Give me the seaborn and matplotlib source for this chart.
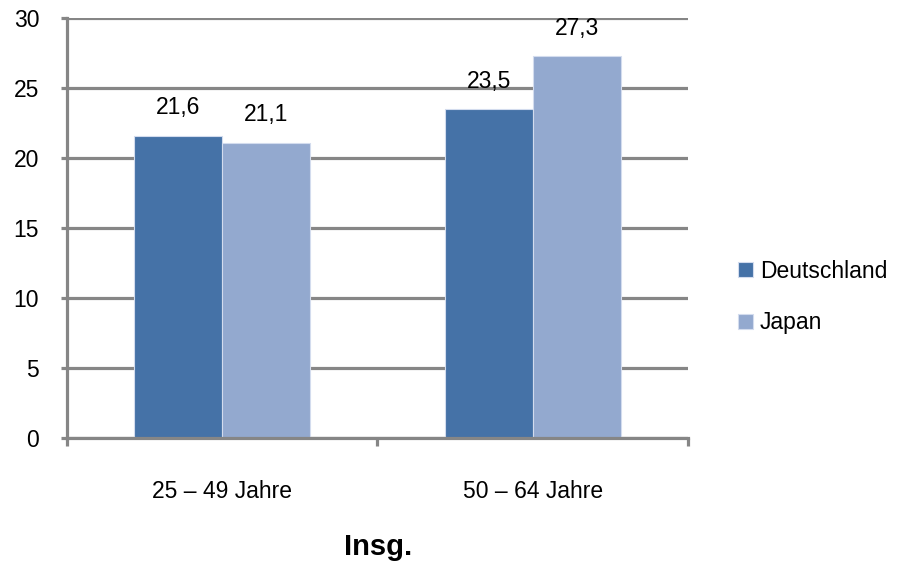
import matplotlib
matplotlib.use("Agg")
import matplotlib.pyplot as plt
import seaborn as sns
import pandas as pd

# Age groups and values per country
categories = ["25 – 49 Jahre", "50 – 64 Jahre"]
countries = ["Deutschland", "Japan"]
deutschland = [21.6, 23.5]
japan = [21.1, 27.3]
y_ticks = [0, 5, 10, 15, 20, 25, 30]
x_title = "Insg."

df = pd.DataFrame({
    "Gruppe": categories * 2,
    "Land": [countries[0]] * len(categories) + [countries[1]] * len(categories),
    "Wert": deutschland + japan,
})

sns.set_theme(style="white")
plt.rcParams["font.family"] = ["Liberation Sans", "DejaVu Sans"]
plt.rcParams["text.color"] = "black"
plt.rcParams["xtick.labelcolor"] = "black"
plt.rcParams["ytick.labelcolor"] = "black"

GRID = "#868686"
FS = 16.5
palette = {"Deutschland": "#4572A7", "Japan": "#93A9CF"}

fig = plt.figure(figsize=(9.01, 5.65), dpi=100)
ax = fig.add_axes([67 / 901, 1 - 438 / 565, (688 - 67) / 901, (438 - 18) / 565])

sns.barplot(data=df, x="Gruppe", y="Wert", hue="Land", order=categories,
            hue_order=countries, palette=palette, width=0.567, saturation=1,
            edgecolor="#d3dcee", linewidth=0.8, ax=ax)

ax.set_xlim(-0.5, 1.5)
ax.set_ylim(0, 30)
ax.set_yticks(y_ticks)
ax.set_yticklabels([str(t) for t in y_ticks], fontsize=FS)
ax.set_axisbelow(True)
ax.yaxis.grid(True, color=GRID, linewidth=2.3)
ax.xaxis.grid(False)

for side in ["top", "right"]:
    ax.spines[side].set_visible(False)
for side in ["left", "bottom"]:
    ax.spines[side].set_color(GRID)
    ax.spines[side].set_linewidth(2.3)

ax.tick_params(axis="y", which="major", length=4, width=2.3, color=GRID,
               pad=16, left=True)
ax.tick_params(axis="x", which="major", length=0, pad=30, labelsize=FS)
ax.set_xticks([-0.5, 0.5, 1.5], minor=True)
ax.tick_params(axis="x", which="minor", length=6, width=2.3, color=GRID,
               bottom=True)
ax.set_xlabel("")
ax.set_ylabel("")

# Value labels above each bar
for container in ax.containers:
    for bar in container:
        h = bar.get_height()
        ax.annotate(f"{h:.1f}".replace(".", ","),
                    (bar.get_x() + bar.get_width() / 2, h),
                    xytext=(0, 20), textcoords="offset points",
                    ha="center", va="center", fontsize=FS)

handles, labels = ax.get_legend_handles_labels()
ax.legend(handles, labels, loc="center left", bbox_to_anchor=(738 / 901, 1 - 297 / 565),
          bbox_transform=fig.transFigure, frameon=False, fontsize=FS,
          handlelength=0.65, handleheight=0.65, handletextpad=0.3,
          labelspacing=1.25, borderaxespad=0, borderpad=0)

fig.text(378 / 901, 1 - 547 / 565, x_title, ha="center", va="center",
         fontsize=21, fontweight="bold")

fig.savefig("out.png", dpi=100)
